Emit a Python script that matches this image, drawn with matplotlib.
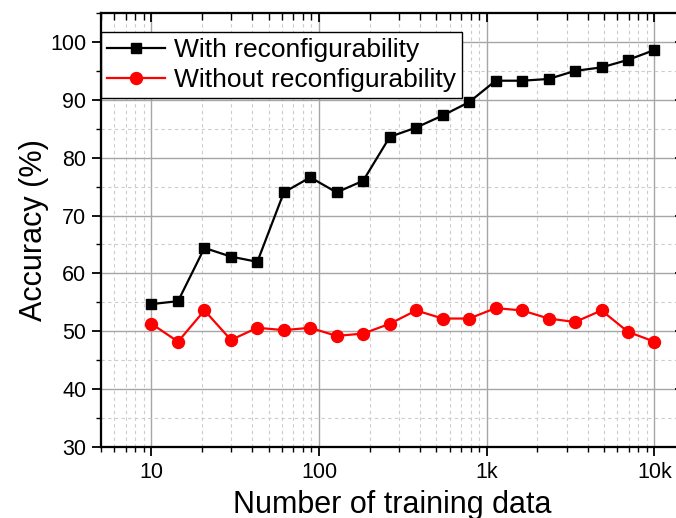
import matplotlib
matplotlib.use('Agg')
import matplotlib.pyplot as plt
from matplotlib.ticker import FixedLocator, MultipleLocator, NullFormatter, LogLocator

plt.rcParams['font.family'] = ['Liberation Sans', 'DejaVu Sans']

x_values = [10, 14.4, 20.7, 29.8, 42.8, 61.6, 88.6, 127, 183, 264, 379, 546,
            785, 1129, 1624, 2336, 3360, 4833, 6952, 10000]
with_reconf = [54.7, 55.2, 64.4, 62.9, 62.0, 74.0, 76.6, 74.0, 76.0, 83.6, 85.2,
               87.3, 89.6, 93.3, 93.3, 93.6, 95.0, 95.6, 96.9, 98.6]
without_reconf = [51.3, 48.2, 53.6, 48.5, 50.6, 50.2, 50.6, 49.2, 49.6, 51.3, 53.6,
                  52.2, 52.2, 54.0, 53.6, 52.2, 51.6, 53.6, 49.9, 48.2]
x_ticks = [10, 100, 1000, 10000]
x_ticklabels = ['10', '100', '1k', '10k']
y_ticks = [30, 40, 50, 60, 70, 80, 90, 100]
series_labels = ['With reconfigurability', 'Without reconfigurability']

fig = plt.figure(figsize=(6.76, 5.18), dpi=100)
ax = fig.add_axes([101/676, 1 - 447/518, (684 - 101)/676, (447 - 13)/518])

ax.set_xscale('log')
ax.set_xlim(5, 15000)
ax.set_ylim(30, 105)

ax.plot(x_values, with_reconf, color='black', lw=1.6, marker='s', ms=7.8,
        label=series_labels[0], zorder=3)
ax.plot(x_values, without_reconf, color='#ff0000', lw=1.6, marker='o', ms=8.6,
        label=series_labels[1], zorder=3)

ax.xaxis.set_major_locator(FixedLocator(x_ticks))
ax.set_xticklabels(x_ticklabels)
ax.xaxis.set_minor_locator(LogLocator(base=10, subs=range(2, 10), numticks=20))
ax.xaxis.set_minor_formatter(NullFormatter())
ax.yaxis.set_major_locator(FixedLocator(y_ticks))
ax.yaxis.set_minor_locator(MultipleLocator(5))

ax.grid(which='major', color='#a6a6a6', lw=1.0, ls='-', zorder=0)
ax.grid(which='minor', color='#cccccc', lw=0.8, ls=(0, (3, 3)), zorder=0)
ax.set_axisbelow(True)

ax.tick_params(axis='both', which='major', direction='out', length=6.5, width=1.3,
               labelsize=15.5, pad=4, top=False, right=False)
ax.tick_params(axis='both', which='minor', direction='out', length=3.5, width=1.0,
               top=False, right=False)
ax.tick_params(axis='y', which='major', pad=4)

for s in ax.spines.values():
    s.set_linewidth(1.5)
    s.set_color('black')

# inward ticks on top and right
axt = ax.twiny()
axt.set_xscale('log')
axt.set_xlim(ax.get_xlim())
axt.xaxis.set_major_locator(FixedLocator(x_ticks))
axt.xaxis.set_minor_locator(LogLocator(base=10, subs=range(2, 10), numticks=20))
axt.tick_params(axis='x', which='major', direction='in', length=6.5, width=1.3,
                labeltop=False)
axt.tick_params(axis='x', which='minor', direction='in', length=5, width=1.0,
                labeltop=False)
axt.xaxis.set_minor_formatter(NullFormatter())

axr = ax.twinx()
axr.set_ylim(ax.get_ylim())
axr.yaxis.set_major_locator(FixedLocator(y_ticks))
axr.yaxis.set_minor_locator(MultipleLocator(5))
axr.tick_params(axis='y', which='major', direction='in', length=6.5, width=1.3,
                labelright=False)
axr.tick_params(axis='y', which='minor', direction='in', length=3.5, width=1.0,
                labelright=False)
for a in (axt, axr):
    for s in a.spines.values():
        s.set_linewidth(1.5)

ax.set_xlabel('Number of training data', fontsize=22, labelpad=5)
ax.set_ylabel('Accuracy (%)', fontsize=22, labelpad=1)

leg = ax.legend(loc='upper left', bbox_to_anchor=(0, (447 - 32)/434),
                borderaxespad=0, fontsize=19, frameon=True, fancybox=False,
                edgecolor='black', framealpha=1, labelspacing=0.25,
                borderpad=0.22, handlelength=2.2, handletextpad=0.35)
leg.get_frame().set_linewidth(1.0)
leg.set_zorder(10)

fig.savefig('out.png', dpi=100)
